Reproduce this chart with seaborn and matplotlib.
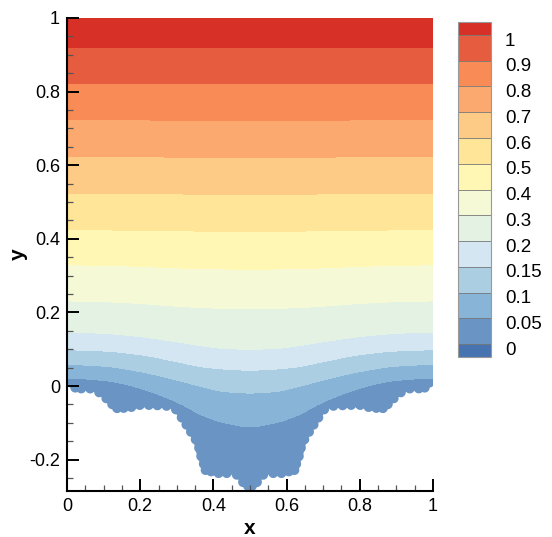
import numpy as np
import matplotlib
matplotlib.use("Agg")
import matplotlib.pyplot as plt
from matplotlib.colors import ListedColormap, BoundaryNorm
import matplotlib.ticker as mticker
import matplotlib.transforms as mtransforms
import seaborn as sns

# ---------------- data ----------------
levels = [0, 0.05, 0.1, 0.15, 0.2, 0.3, 0.4, 0.5, 0.6, 0.7, 0.8, 0.9, 1.0]
level_labels = ["0", "0.05", "0.1", "0.15", "0.2", "0.3", "0.4",
                "0.5", "0.6", "0.7", "0.8", "0.9", "1"]
band_colors = ["#4873b1", "#6994c4", "#88b5d7", "#abcee2", "#d3e6f1",
               "#e3f2e3", "#f6f9d6", "#fff7b3", "#fee597", "#fdcb85",
               "#fca96f", "#f98b56", "#e55c3e", "#d73027"]

# x positions where the iso-line heights were read
sample_x = [0.0, 0.1, 0.2, 0.3, 0.37, 0.43, 0.5, 0.57, 0.63, 0.7, 0.8, 0.9, 1.0]
# y of each iso-line (levels 0.05 ... 1.0) at sample_x
iso_005 = [0.022, 0.016, -0.006, -0.043, -0.079, -0.099, -0.110, -0.099, -0.079, -0.043, -0.006, 0.016, 0.022]
iso_010 = [0.058, 0.054, 0.039, 0.016, -0.002, -0.015, -0.019, -0.015, -0.002, 0.016, 0.039, 0.054, 0.058]
iso_015 = [0.098, 0.095, 0.085, 0.066, 0.052, 0.046, 0.043, 0.046, 0.052, 0.066, 0.085, 0.095, 0.098]
iso_020 = [0.146, 0.143, 0.134, 0.120, 0.109, 0.102, 0.100, 0.102, 0.109, 0.120, 0.134, 0.143, 0.146]
iso_030 = [0.231, 0.229, 0.224, 0.217, 0.213, 0.211, 0.210, 0.211, 0.213, 0.217, 0.224, 0.229, 0.231]
iso_040 = [0.329, 0.328, 0.325, 0.321, 0.319, 0.318, 0.317, 0.318, 0.319, 0.321, 0.325, 0.328, 0.329]
iso_050 = [0.424, 0.424, 0.423, 0.422, 0.421, 0.421, 0.421, 0.421, 0.421, 0.422, 0.423, 0.424, 0.424]
iso_060 = [0.523, 0.523, 0.523, 0.522, 0.521, 0.521, 0.521, 0.521, 0.521, 0.522, 0.523, 0.523, 0.523]
iso_070 = [0.623, 0.623, 0.623, 0.622, 0.622, 0.622, 0.622, 0.622, 0.622, 0.622, 0.623, 0.623, 0.623]
iso_080 = [0.723, 0.723, 0.723, 0.722, 0.722, 0.722, 0.722, 0.722, 0.722, 0.722, 0.723, 0.723, 0.723]
iso_090 = [0.822, 0.822, 0.822, 0.822, 0.822, 0.822, 0.822, 0.822, 0.822, 0.822, 0.822, 0.822, 0.822]
iso_100 = [0.921, 0.921, 0.921, 0.921, 0.921, 0.921, 0.921, 0.921, 0.921, 0.921, 0.921, 0.921, 0.921]

# lower edge of the domain (envelope of the scalloped fractal boundary)
boundary_x = [0.0, 0.02, 0.07, 0.095, 0.115, 0.13, 0.17, 0.195, 0.23, 0.285, 0.30, 0.32,
              0.345, 0.355, 0.37, 0.41, 0.455, 0.475, 0.5,
              0.525, 0.545, 0.59, 0.63, 0.645, 0.655, 0.68, 0.70, 0.715, 0.77, 0.805,
              0.83, 0.87, 0.885, 0.905, 0.93, 0.98, 1.0]
boundary_y = [0.0, -0.02, -0.02, -0.04, -0.06, -0.073, -0.073, -0.065, -0.065, -0.068, -0.09, -0.12,
              -0.16, -0.20, -0.24, -0.25, -0.25, -0.275, -0.29,
              -0.275, -0.25, -0.25, -0.24, -0.20, -0.16, -0.12, -0.09, -0.068, -0.065, -0.065,
              -0.073, -0.073, -0.06, -0.04, -0.02, -0.02, 0.0]

x_ticks = [0, 0.2, 0.4, 0.6, 0.8, 1.0]
y_ticks = [-0.2, 0, 0.2, 0.4, 0.6, 0.8, 1.0]

# ---------------- style ----------------
sns.set_theme(style="ticks")
plt.rcParams["font.family"] = ["Liberation Sans", "DejaVu Sans"]
plt.rcParams["axes.unicode_minus"] = False
plt.rcParams["axes.axisbelow"] = False
for k in ("text.color", "axes.labelcolor", "xtick.color", "ytick.color",
          "xtick.labelcolor", "ytick.labelcolor"):
    plt.rcParams[k] = "black"

LOBE_R = 0.0135
LOBE_SPACING = 0.023


def pchip(xk, yk, x):
    xk = np.asarray(xk, float)
    yk = np.asarray(yk, float)
    h = np.diff(xk)
    d = np.diff(yk) / h
    m = np.zeros_like(yk)
    for i in range(1, len(xk) - 1):
        if d[i - 1] * d[i] > 0:
            w1 = 2 * h[i] + h[i - 1]
            w2 = h[i] + 2 * h[i - 1]
            m[i] = (w1 + w2) / (w1 / d[i - 1] + w2 / d[i])
    idx = np.clip(np.searchsorted(xk, x) - 1, 0, len(xk) - 2)
    t = (x - xk[idx]) / h[idx]
    h00 = 2 * t**3 - 3 * t**2 + 1
    h10 = t**3 - 2 * t**2 + t
    h01 = -2 * t**3 + 3 * t**2
    h11 = t**3 - t**2
    return (h00 * yk[idx] + h10 * h[idx] * m[idx]
            + h01 * yk[idx + 1] + h11 * h[idx] * m[idx + 1])


iso_rows = [iso_005, iso_010, iso_015, iso_020, iso_030, iso_040,
            iso_050, iso_060, iso_070, iso_080, iso_090, iso_100]

NX, NY = 760, 980
xs = np.linspace(0, 1, NX)
ys = np.linspace(-0.3, 1.0, NY)
X, Y = np.meshgrid(xs, ys)

H = np.array([pchip(sample_x, row, xs) for row in iso_rows])  # (12, NX)
U = np.empty((NY, NX))
lv = np.array(levels, float)
for j in range(NX):
    hk = np.concatenate([[-2.0], H[:, j], [H[-1, j] + 1.0]])
    uk = np.concatenate([[0.0], lv[1:], [lv[-1] + 1.0]])
    U[:, j] = np.interp(ys, hk, uk)

# smooth "inside" indicator for the scalloped lower boundary (>0 inside)
bx = np.array(boundary_x)
by = np.array(boundary_y)
S = Y - (np.interp(X, bx, by) + 0.9 * LOBE_R)
seg = np.hypot(np.diff(bx), np.diff(by))
sarc = np.concatenate([[0], np.cumsum(seg)])
n = int(round(sarc[-1] / LOBE_SPACING))
st = np.linspace(0, sarc[-1], n + 1)
px = np.interp(st, sarc, bx)
py = np.interp(st, sarc, by)
tx = np.gradient(px)
ty = np.gradient(py)
tn = np.hypot(tx, ty)
cxs = px - LOBE_R * ty / tn
cys = py + LOBE_R * tx / tn
rows = ys < 0.08
Xs, Ys = X[rows], Y[rows]
sub = S[rows]
for cx, cy in zip(cxs, cys):
    sub = np.maximum(sub, LOBE_R - np.sqrt((Xs - cx) ** 2 + (Ys - cy) ** 2))
S[rows] = sub

palette = sns.color_palette(band_colors)
cmap = ListedColormap(palette[1:13])
cmap.set_under(palette[0])
cmap.set_over(palette[13])
norm = BoundaryNorm(levels, cmap.N)

fig = plt.figure(figsize=(5.52, 5.37), dpi=100)
ax = fig.add_axes([67 / 552, 1 - 491 / 537, 366 / 552, 473 / 537])
ax.set_axisbelow(False)
ax.contourf(X, Y, U, levels=levels, cmap=cmap, norm=norm, extend="both", zorder=0.5)
ax.contourf(X, Y, S, levels=[-10, 0], colors=["white"], antialiased=True, zorder=0.6)
ax.set_xlim(0, 1)
ax.set_ylim(-0.2853, 1.0)
ax.set_facecolor("white")
sns.despine(ax=ax)
for sp in ("left", "bottom"):
    ax.spines[sp].set_linewidth(1.5)
    ax.spines[sp].set_color("black")
    ax.spines[sp].set_zorder(5)

ax.set_xticks(x_ticks)
ax.set_yticks(y_ticks)
ax.xaxis.set_minor_locator(mticker.MultipleLocator(0.05))
ax.yaxis.set_minor_locator(mticker.MultipleLocator(0.05))
fmt = mticker.FuncFormatter(lambda v, p: "%g" % round(v, 3))
ax.xaxis.set_major_formatter(fmt)
ax.yaxis.set_major_formatter(fmt)
ax.tick_params(which="major", direction="in", length=8.5, width=1.4,
               color="black", labelsize=13, pad=5, labelcolor="black")
ax.tick_params(which="minor", direction="in", length=4.5, width=0.9,
               color="#555555")
ax.xaxis.set_zorder(4)
ax.yaxis.set_zorder(4)
ax.set_xlabel("x", fontsize=15, fontweight="bold", labelpad=3, color="black")
ax.set_ylabel("y", fontsize=15, fontweight="bold", labelpad=1, color="black")

cax = fig.add_axes([458 / 552, 1 - 357 / 537, 33 / 552, 335 / 537])
sm = matplotlib.cm.ScalarMappable(norm=norm, cmap=cmap)
cb = fig.colorbar(sm, cax=cax, extend="both", extendrect=True, extendfrac=0.042,
                  spacing="uniform", drawedges=True, ticks=levels)
cb.ax.set_yticklabels(level_labels)
cb.ax.tick_params(length=0, pad=10, labelsize=13.5, labelcolor="black")
cb.outline.set_edgecolor("#999999")
cb.outline.set_linewidth(0.8)
cb.dividers.set_color("#777777")
cb.dividers.set_linewidth(0.6)
off = mtransforms.ScaledTranslation(0, -3 / 72, fig.dpi_scale_trans)
for lab in cb.ax.get_yticklabels():
    lab.set_transform(lab.get_transform() + off)

fig.savefig("out.png", dpi=100, facecolor="white")
